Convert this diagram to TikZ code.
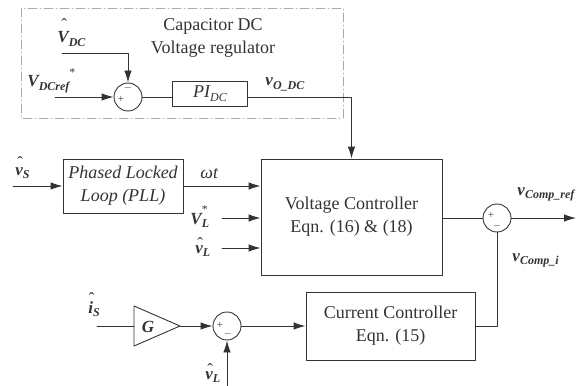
\documentclass[tikz,border=0pt]{standalone}
\usepackage{fontspec}
\setmainfont{Liberation Serif}
\usetikzlibrary{arrows.meta,positioning}
\definecolor{LineGray}{HTML}{333333}
\definecolor{FrameGray}{HTML}{A8A8A8}
\newcommand{\hatsym}[2]{\ooalign{#2\cr\hidewidth\kern2pt\raisebox{#1}{\fontsize{17}{17}\selectfont\mdseries\upshape\char"02C6}\hidewidth\cr}}
\newcommand{\sbs}[1]{\raisebox{-0.5ex}{\fontsize{12}{12}\selectfont #1}}
\newcommand{\sstar}{\raisebox{1.3ex}{\fontsize{12}{12}\selectfont\mdseries\upshape *}}

\begin{document}
\begin{tikzpicture}[x=1pt,y=-1pt,color=LineGray,line cap=round,line join=round,line width=0.9pt,
  block/.style={draw,rectangle,inner sep=0,align=center,font=\fontsize{18}{23}\selectfont},
  sumjn/.style={draw,circle,minimum size=28pt,inner sep=0},
  lab/.style={inner sep=0,anchor=base west,font=\fontsize{17}{20}\selectfont\bfseries\itshape},
  sgn/.style={inner sep=0,font=\fontsize{11}{11}\selectfont},
  sig/.style={-{Latex[length=12pt,width=7.5pt]}},
  frame/.style={draw=FrameGray,dash pattern=on 9pt off 3pt on 1pt off 3pt,line width=0.7pt}]
  \useasboundingbox (0,0) rectangle (580,385);
  % capacitor dc voltage regulator
  \draw[frame] (21,8) rectangle (343,118);
  \node[block,draw=none] (title) at (213,38) {Capacitor DC\\Voltage regulator};
  \node[sumjn] (sum1) at (128,97) {};
  \node[sgn] (s1p) at (121,99) {+};\node[sgn] (s1m) at (128,88) {$-$};
  \node[block,minimum width=75pt,minimum height=25pt,font=\fontsize{18}{23}\selectfont\itshape] (pidc) at (210,94) {PI\sbs{DC}};
  \coordinate (vdcin) at (62,53);\coordinate (vref) at (55,97);
  % controllers
  \node[block,minimum width=181pt,minimum height=116pt] (vc) at (351.5,217) {Voltage Controller\\Eqn. (16) \& (18)};
  \node[block,minimum width=120pt,minimum height=54pt,font=\fontsize{18}{23}\selectfont\itshape] (pll) at (123,186) {Phased Locked\\Loop (PLL)};
  \node[block,minimum width=169pt,minimum height=68pt] (cc) at (390.5,326) {Current Controller\\Eqn. (15)};
  \node[sumjn] (sum2) at (497,218) {};
  \node[sgn] (s2p) at (491,215) {+};\node[sgn] (s2m) at (497,226) {$-$};
  \node[sumjn] (sum3) at (227,326) {};
  \node[sgn] (s3p) at (220,325) {+};\node[sgn] (s3m) at (228,334) {$-$};
  \draw (134,306) -- (180,326) -- (134,346) -- cycle;
  \coordinate (gin) at (134,326);\coordinate (gout) at (180,326);
  \node[lab,anchor=center] (gain) at (148,327) {G};
  \coordinate (vs) at (13,186);\coordinate (vlstar) at (222,218);\coordinate (vlhat) at (222,248);
  \coordinate (vout) at (576,218);\coordinate (is) at (97,326);\coordinate (vlb) at (227,386);
  % labels
  \node[lab] (lvdc) at (57,43) {\hatsym{12pt}{V}\sbs{DC}};
  \node[lab] (lvref) at (27,87) {V\sbs{DCref}\sstar};
  \node[lab] (lvodc) at (265,86) {v\sbs{O\_DC}};
  \node[lab] (lvs) at (15,175) {\hatsym{7pt}{v}\sbs{S}};
  \node[lab,font=\fontsize{18}{20}\selectfont\itshape] (lwt) at (200,178) {ωt};
  \node[lab] (lvlstar) at (190,224) {V\rlap{\sbs{L}}\sstar};
  \node[lab] (lvlhat) at (195,253) {\hatsym{4pt}{v}\sbs{L}};
  \node[lab] (lvref2) at (517,195) {v\sbs{Comp\_ref}};
  \node[lab] (lvci) at (512,261) {v\sbs{Comp\_i}};
  \node[lab] (lis) at (88,313) {\hatsym{9pt}{i}\sbs{S}};
  \node[lab] (lvlb) at (205,379) {\hatsym{4pt}{v}\sbs{L}};
  % signals
  \draw[sig] (vdcin) -| (sum1.north);
  \draw[sig] (vref) -- (sum1.west);
  \draw (sum1.east) -- (sum1.east -| pidc.west);
  \draw[sig] (pidc.east |- sum1.east) -| (vc.north);
  \draw[sig] (vs) -- (pll.west);
  \draw[sig] (pll.east) -- (pll.east -| vc.west);
  \draw[sig] (vlstar) -- (vlstar -| vc.west);
  \draw[sig] (vlhat) -- (vlhat -| vc.west);
  \draw (vc.east |- sum2.west) -- (sum2.west);
  \draw[sig] (sum2.east) -- (vout);
  \draw (cc.east) -| (sum2.south);
  \draw (is) -- (gin);
  \draw[sig] (gout) -- (sum3.west);
  \draw[sig] (sum3.east) -- (cc.west);
  \draw[sig] (vlb) -- (sum3.south);
\end{tikzpicture}
\end{document}
